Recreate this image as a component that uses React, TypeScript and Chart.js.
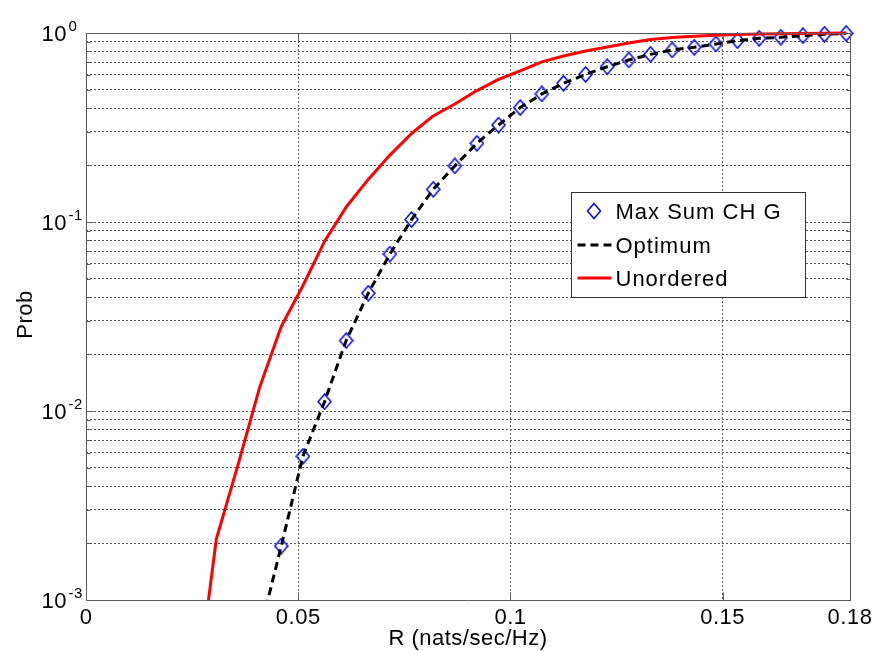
import React, { useEffect, useRef } from 'react';
import { Chart, registerables } from 'chart.js';

Chart.register(...registerables);

const FONT = '"Liberation Sans", Arial, Helvetica, sans-serif';

// Rate grid (nats/sec/Hz) for the Max Sum CH G markers and the Optimum curve
const rate = [
  0.0460, 0.0511, 0.0562, 0.0613, 0.0665, 0.0716, 0.0767, 0.0818, 0.0869,
  0.0921, 0.0972, 0.1023, 0.1074, 0.1125, 0.1177, 0.1228, 0.1279, 0.1330,
  0.1381, 0.1433, 0.1484, 0.1535, 0.1586, 0.1637, 0.1689, 0.1740, 0.1791,
];

const maxSumProb = [
  0.00193, 0.00576, 0.0112, 0.0236, 0.042, 0.0677, 0.103, 0.149, 0.198,
  0.261, 0.326, 0.403, 0.476, 0.542, 0.604, 0.663, 0.72, 0.771,
  0.813, 0.84, 0.875, 0.911, 0.937, 0.949, 0.968, 0.985, 0.995,
];

const optimumRate = [
  0.0409, 0.0460, 0.0511, 0.0562, 0.0613, 0.0665, 0.0716, 0.0767, 0.0818,
  0.0869, 0.0921, 0.0972, 0.1023, 0.1074, 0.1125, 0.1177, 0.1228, 0.1279,
  0.1330, 0.1381, 0.1433, 0.1484, 0.1535, 0.1586, 0.1637, 0.1689, 0.1740, 0.1791,
];

const optimumProb = [
  0.00067, 0.00193, 0.00576, 0.0112, 0.0236, 0.042, 0.0677, 0.103, 0.149,
  0.198, 0.261, 0.326, 0.403, 0.476, 0.542, 0.604, 0.663, 0.72,
  0.771, 0.813, 0.84, 0.875, 0.911, 0.937, 0.949, 0.968, 0.985, 0.995,
];

const unorderedRate = [
  0.0255, 0.0307, 0.0358, 0.0409, 0.0460, 0.0511, 0.0562, 0.0613, 0.0665,
  0.0716, 0.0767, 0.0818, 0.0869, 0.0921, 0.0972, 0.1023, 0.1074, 0.1125,
  0.1177, 0.1228, 0.1279, 0.1330, 0.1381, 0.1433, 0.1484, 0.1535, 0.1586,
  0.1637, 0.1689, 0.1740, 0.1791,
];

const unorderedProb = [
  0.00026, 0.0021, 0.00518, 0.0133, 0.028, 0.046, 0.079, 0.12, 0.168,
  0.226, 0.294, 0.364, 0.421, 0.496, 0.568, 0.63, 0.703, 0.755,
  0.803, 0.843, 0.885, 0.924, 0.947, 0.961, 0.974, 0.982, 0.988,
  0.992, 0.995, 0.998, 1.0,
];

const xTickValues = [0, 0.05, 0.1, 0.15, 0.18];
const xTickLabels = ['0', '0.05', '0.1', '0.15', '0.18'];
const yMajorTicks = [0.001, 0.01, 0.1, 1];
const yMajorExponents = ['-3', '-2', '-1', '0'];
const yGridValues = [
  0.001, 0.002, 0.003, 0.004, 0.005, 0.006, 0.007, 0.008, 0.009,
  0.01, 0.02, 0.03, 0.04, 0.05, 0.06, 0.07, 0.08, 0.09,
  0.1, 0.2, 0.3, 0.4, 0.5, 0.6, 0.7, 0.8, 0.9, 1,
];

const legendLabels = ['Max Sum CH G', 'Optimum', 'Unordered'];
const xTitle = 'R (nats/sec/Hz)';
const yTitle = 'Prob';

const BLUE = '#0000ff';
const RED = '#ff0000';
const BLACK = '#000000';
const AXIS = '#5a5a5a';
const GRID = '#555555';

function makeDiamond(): HTMLCanvasElement {
  const c = document.createElement('canvas');
  c.width = 15;
  c.height = 17;
  const g = c.getContext('2d')!;
  g.strokeStyle = BLUE;
  g.lineWidth = 1.5;
  g.beginPath();
  g.moveTo(7.5, 1);
  g.lineTo(14, 8.5);
  g.lineTo(7.5, 16);
  g.lineTo(1, 8.5);
  g.closePath();
  g.stroke();
  return c;
}

const matlabAxes = {
  id: 'matlabAxes',
  afterDraw(chart: any) {
    const { ctx, chartArea: a } = chart;
    const xs = chart.scales.x;
    const ys = chart.scales.y;
    const L = Math.round(a.left) + 0.5;
    const R = Math.round(a.right) + 0.5;
    const T = Math.round(a.top) + 0.5;
    const B = Math.round(a.bottom) + 0.5;
    ctx.save();

    // frame
    ctx.strokeStyle = AXIS;
    ctx.lineWidth = 1;
    ctx.setLineDash([]);
    ctx.beginPath();
    ctx.rect(L, T, R - L, B - T);
    ctx.stroke();

    // inner ticks
    ctx.beginPath();
    xTickValues.forEach((v) => {
      const px = Math.round(xs.getPixelForValue(v)) + 0.5;
      ctx.moveTo(px, B);
      ctx.lineTo(px, B - 8);
      ctx.moveTo(px, T);
      ctx.lineTo(px, T + 8);
    });
    yGridValues.forEach((v) => {
      const py = Math.round(ys.getPixelForValue(v)) + 0.5;
      const len = yMajorTicks.includes(v) ? 7 : 4;
      ctx.moveTo(L, py);
      ctx.lineTo(L + len, py);
      ctx.moveTo(R, py);
      ctx.lineTo(R - len, py);
    });
    ctx.stroke();

    // tick labels
    ctx.fillStyle = BLACK;
    ctx.textBaseline = 'alphabetic';
    try { (ctx as any).letterSpacing = '0.5px'; } catch (e) {}
    ctx.font = `22px ${FONT}`;
    ctx.textAlign = 'center';
    xTickValues.forEach((v, i) => {
      ctx.fillText(xTickLabels[i], xs.getPixelForValue(v), a.bottom + 23.5);
    });
    yMajorTicks.forEach((v, i) => {
      const py = ys.getPixelForValue(v);
      ctx.font = `22px ${FONT}`;
      ctx.textAlign = 'right';
      ctx.fillText('10', a.left - 19, py + 8);
      ctx.font = `15px ${FONT}`;
      ctx.textAlign = 'left';
      ctx.fillText(yMajorExponents[i], a.left - 17.5, py - 2);
    });

    // axis titles
    ctx.font = `22px ${FONT}`;
    ctx.textAlign = 'center';
    ctx.fillText(xTitle, (a.left + a.right) / 2, a.bottom + 45);
    ctx.save();
    ctx.translate(31.5, (a.top + a.bottom) / 2 - 2);
    ctx.rotate(-Math.PI / 2);
    ctx.fillText(yTitle, 0, 0);
    ctx.restore();

    // legend
    const bx = Math.round(a.right) - 279 + 0.5;
    const by = Math.round(a.top) + 159 + 0.5;
    const bw = 234;
    const bh = 105;
    ctx.fillStyle = '#ffffff';
    ctx.fillRect(bx, by, bw, bh);
    ctx.strokeStyle = '#333333';
    ctx.lineWidth = 1;
    ctx.strokeRect(bx, by, bw, bh);
    const rows = [by + 18.5, by + 52.5, by + 85.5];
    // diamond
    ctx.strokeStyle = BLUE;
    ctx.lineWidth = 1.5;
    const cx = bx + 22.5;
    ctx.beginPath();
    ctx.moveTo(cx, rows[0] - 7.5);
    ctx.lineTo(cx + 6.5, rows[0]);
    ctx.lineTo(cx, rows[0] + 7.5);
    ctx.lineTo(cx - 6.5, rows[0]);
    ctx.closePath();
    ctx.stroke();
    // dashed black
    ctx.strokeStyle = BLACK;
    ctx.lineWidth = 3;
    ctx.setLineDash([8, 5]);
    ctx.beginPath();
    ctx.moveTo(bx + 6, rows[1]);
    ctx.lineTo(bx + 40, rows[1]);
    ctx.stroke();
    // red
    ctx.setLineDash([]);
    ctx.strokeStyle = RED;
    ctx.beginPath();
    ctx.moveTo(bx + 6, rows[2]);
    ctx.lineTo(bx + 40, rows[2]);
    ctx.stroke();
    // texts
    ctx.fillStyle = BLACK;
    ctx.font = `22px ${FONT}`;
    try { (ctx as any).letterSpacing = '1px'; } catch (e) {}
    ctx.textAlign = 'left';
    legendLabels.forEach((t, i) => {
      ctx.fillText(t, bx + 44, rows[i] + 7.5);
    });

    ctx.restore();
  },
};

export default function App() {
  const ref = useRef<HTMLCanvasElement>(null);
  useEffect(() => {
    const canvas = ref.current!;
    const marker = makeDiamond();
    const toPts = (xsArr: number[], ysArr: number[]) => xsArr.map((x, i) => ({ x, y: ysArr[i] }));
    const chart = new Chart(canvas, {
      type: 'scatter',
      data: {
        datasets: [
          {
            label: legendLabels[2],
            data: toPts(unorderedRate, unorderedProb),
            showLine: true,
            borderColor: RED,
            backgroundColor: RED,
            borderWidth: 3,
            pointRadius: 0,
            borderJoinStyle: 'round',
            clip: { left: 0, top: 3, right: 3, bottom: 0 },
            order: 0,
          } as any,
          {
            label: legendLabels[1],
            data: toPts(optimumRate, optimumProb),
            showLine: true,
            borderColor: BLACK,
            backgroundColor: BLACK,
            borderWidth: 3,
            borderDash: [8, 5],
            pointRadius: 0,
            clip: { left: 0, top: 3, right: 3, bottom: 0 },
            order: 1,
          } as any,
          {
            label: legendLabels[0],
            data: toPts(rate, maxSumProb),
            showLine: false,
            pointStyle: marker,
            pointRadius: 7,
            borderColor: BLUE,
            backgroundColor: 'rgba(0,0,0,0)',
            clip: false,
            order: 2,
          } as any,
        ],
      },
      options: {
        responsive: false,
        animation: false,
        devicePixelRatio: 1,
        events: [],
        layout: { padding: { left: 86, right: 27, top: 33, bottom: 51 } },
        plugins: { legend: { display: false }, tooltip: { enabled: false }, title: { display: false } },
        scales: {
          x: {
            type: 'linear',
            min: 0,
            max: 0.18,
            afterBuildTicks: (s: any) => {
              s.ticks = xTickValues.map((v) => ({ value: v }));
            },
            ticks: { display: false },
            grid: { drawTicks: false, color: GRID, lineWidth: 1 },
            border: { display: false, dash: [2, 2] },
          },
          y: {
            type: 'logarithmic',
            min: 0.001,
            max: 1,
            afterBuildTicks: (s: any) => {
              s.ticks = yGridValues.map((v) => ({ value: v, major: yMajorTicks.includes(v) }));
            },
            ticks: { display: false },
            grid: { drawTicks: false, color: GRID, lineWidth: 1 },
            border: { display: false, dash: [2, 2] },
          },
        },
      } as any,
      plugins: [matlabAxes],
    });
    return () => chart.destroy();
  }, []);
  return (
    <div style={{ position: 'absolute', left: 0, top: 0, width: 877, height: 651, background: '#fff' }}>
      <canvas ref={ref} width={877} height={651} style={{ display: 'block' }} />
    </div>
  );
}
